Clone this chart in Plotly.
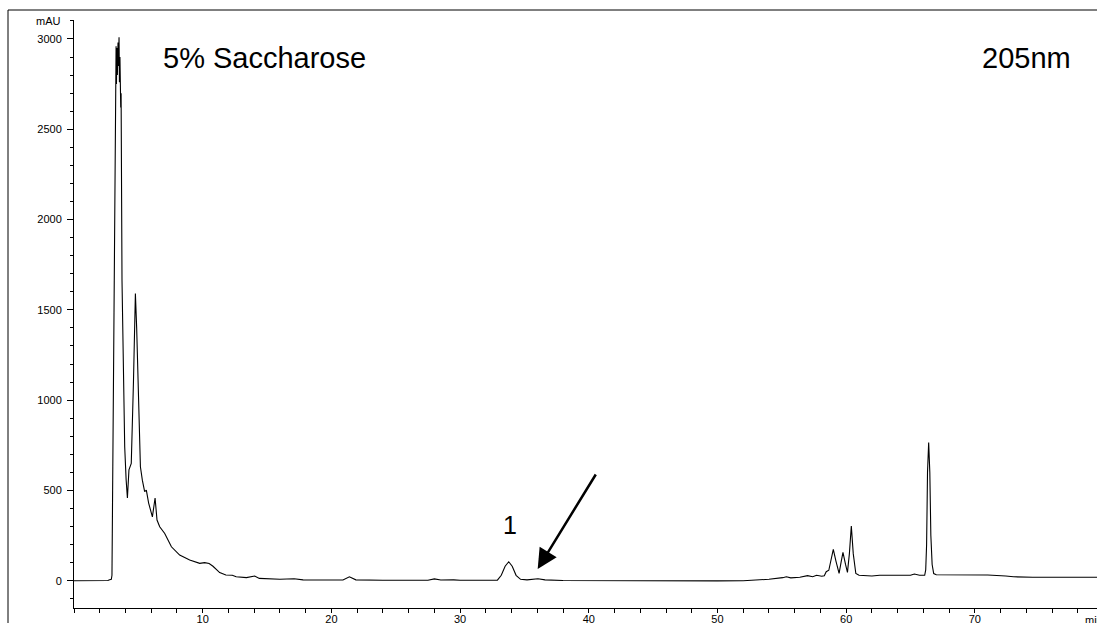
import plotly.graph_objects as go

# Chromatogram: retention time (min) and absorbance (mAU)
time_min = [
    0.0, 2.0, 2.63, 2.77, 2.9, 2.95, 3.05, 3.15, 3.22, 3.27, 3.3, 3.33, 3.37, 3.42, 3.45,
    3.5, 3.53, 3.57, 3.6, 3.63, 3.66, 3.73, 3.85, 3.94, 4.05, 4.15, 4.27, 4.45, 4.62,
    4.77, 4.87, 4.97, 5.16, 5.31, 5.49, 5.62, 5.8, 6.09, 6.2, 6.3, 6.45, 6.66, 7.05,
    7.57, 8.21, 8.99, 9.77, 10.15, 10.5, 10.8, 11.32, 11.8, 12.3, 12.6, 13.4, 14.04,
    14.4, 15.0, 16.0, 17.1, 17.8, 19.0, 20.9, 21.4, 21.9, 24.0, 27.5, 28.0, 28.5, 29.5,
    30.0, 32.9, 33.2, 33.5, 33.78, 34.05, 34.35, 34.7, 35.2, 36.05, 36.6, 38.0, 40.0,
    45.0, 50.0, 52.0, 53.0, 54.0, 55.07, 55.35, 55.7, 56.4, 57.0, 57.4, 57.7, 58.1,
    58.3, 58.45, 58.65, 58.8, 59.0, 59.2, 59.45, 59.6, 59.75, 59.95, 60.1, 60.25, 60.4,
    60.55, 60.75, 61.0, 62.0, 62.6, 63.5, 64.2, 65.0, 65.3, 65.7, 66.1, 66.18, 66.25,
    66.32, 66.41, 66.5, 66.58, 66.68, 66.8, 67.0, 68.0, 69.0, 70.0, 71.0, 72.4, 73.0,
    74.5, 76.0, 79.5,
]
absorbance_mau = [
    0, 0, 1, 5, 8, 30, 1000, 2000, 2700, 2960, 2750, 2950, 2800, 2980, 2850,
    3010, 2760, 2900, 2760, 2620, 2700, 1664, 1100, 740, 560, 458, 614, 650, 1100,
    1591, 1400, 1111, 631, 557, 493, 502, 430, 354, 400, 458, 336, 299, 262,
    188, 142, 115, 96, 100, 95, 80, 45, 32, 30, 22, 17, 26,
    13, 10, 8, 11, 5, 4, 4, 22, 5, 3, 3, 10, 4, 5,
    3, 3, 30, 80, 105, 80, 30, 8, 5, 11, 5, 1, 0,
    -2, -1, 0, 2, 8, 17, 22, 16, 19, 28, 22, 30, 25,
    28, 50, 58, 110, 174, 110, 41, 100, 157, 90, 46, 150, 303,
    150, 40, 30, 26, 30, 28, 30, 30, 37, 30, 30, 60, 200,
    600, 766, 600, 250, 90, 40, 33, 33, 36, 35, 32, 26, 22,
    19, 18, 19,
]

x_major_ticks = [10, 20, 30, 40, 50, 60, 70]
y_major_ticks = [0, 500, 1000, 1500, 2000, 2500, 3000]

title_text = "5% Saccharose"
wavelength_text = "205nm"
peak_label = "1"

# plot-area geometry (pixels)
W, H = 1097, 623
L, R, T, B = 74, 0, 20, 15
PW, PH = W - L - R, H - T - B


def px(xp):
    return (xp - L) / PW


def py(yp):
    return (H - B - yp) / PH


FONT = "Liberation Sans"

fig = go.Figure()
fig.add_trace(go.Scatter(
    x=time_min, y=absorbance_mau, mode="lines",
    line=dict(color="black", width=1.1), hoverinfo="skip", showlegend=False,
))

fig.update_layout(
    width=W, height=H,
    margin=dict(l=L, r=R, t=T, b=B, pad=0, autoexpand=False),
    paper_bgcolor="white", plot_bgcolor="white",
    font=dict(family=FONT, color="black", size=11),
    xaxis=dict(
        range=[0, 79.49], showline=True, linecolor="black", linewidth=1,
        showgrid=False, zeroline=False, ticks="outside", ticklen=4, tickwidth=1,
        tickcolor="black", tickvals=x_major_ticks, automargin=False,
        tickfont=dict(size=11, family=FONT, color="black"), ticklabelstandoff=-3,
        minor=dict(dtick=2, tick0=0, ticks="outside", ticklen=4, tickcolor="black",
                   showgrid=False),
    ),
    yaxis=dict(
        range=[-151, 3105], showline=True, linecolor="black", linewidth=1,
        showgrid=False, zeroline=False, ticks="outside", ticklen=6, tickwidth=1,
        tickcolor="black", tickvals=y_major_ticks, automargin=False,
        tickfont=dict(size=11, family=FONT, color="black"), ticklabelstandoff=3,
        minor=dict(dtick=100, tick0=0, ticks="outside", ticklen=3, tickcolor="black",
                   showgrid=False),
    ),
    shapes=[
        dict(type="line", xref="paper", yref="paper", x0=px(8), x1=px(8),
             y0=py(10), y1=py(H + 2), line=dict(color="black", width=1)),
        dict(type="line", xref="paper", yref="paper", x0=px(8), x1=px(W + 2),
             y0=py(10), y1=py(10), line=dict(color="black", width=1)),
    ],
    annotations=[
        dict(text=title_text, xref="paper", yref="paper", x=px(161), y=py(58),
             xanchor="left", yanchor="middle", showarrow=False,
             font=dict(size=29, family=FONT)),
        dict(text=wavelength_text, xref="paper", yref="paper", x=px(1073), y=py(58),
             xanchor="right", yanchor="middle", showarrow=False,
             font=dict(size=29, family=FONT)),
        dict(text="mAU", xref="paper", yref="y", x=px(63), y=3100,
             xanchor="right", yanchor="middle", showarrow=False,
             font=dict(size=11, family=FONT)),
        dict(text="min", xref="paper", yref="paper", x=px(1083), y=py(612),
             xanchor="left", yanchor="top", showarrow=False,
             font=dict(size=11, family=FONT)),
        dict(text=peak_label, x=33.85, y=308, xref="x", yref="y",
             showarrow=False, font=dict(size=25, family=FONT)),
        dict(text="", x=36.03, y=65, xref="x", yref="y", showarrow=True,
             ax=59, ay=-96, axref="pixel", ayref="pixel",
             arrowhead=2, arrowsize=1.6, arrowwidth=2.5, arrowcolor="black",
             standoff=0),
    ],
)

fig.write_html("out.html")
